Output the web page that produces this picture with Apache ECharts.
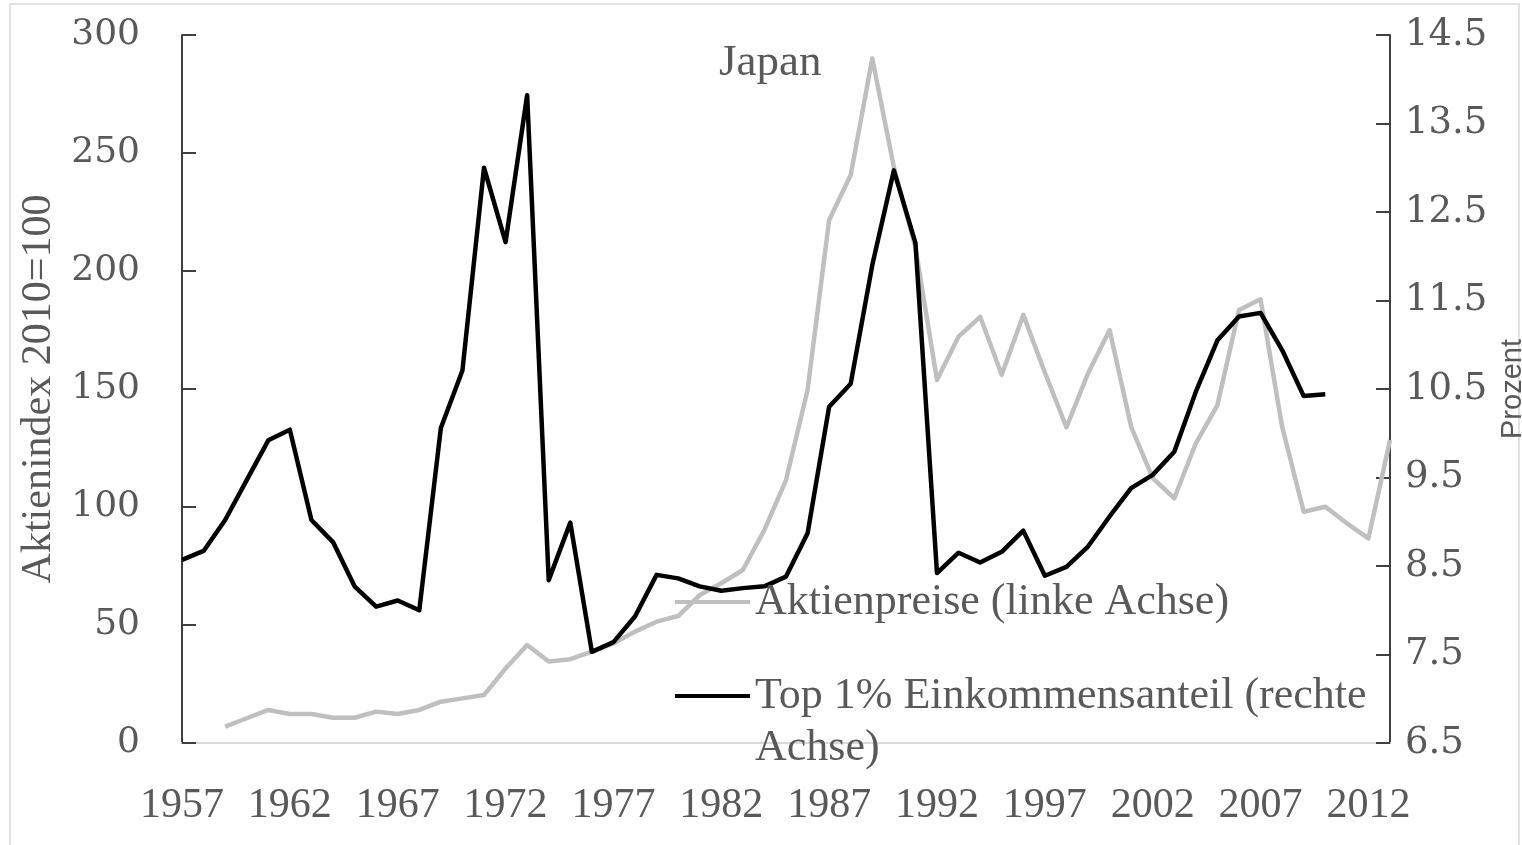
<!DOCTYPE html>
<html>
<head>
<meta charset="utf-8">
<script src="https://cdn.jsdelivr.net/npm/echarts@6/dist/echarts.min.js"></script>
<style>
html,body{margin:0;padding:0;background:#fff;}
#chart{width:1522px;height:845px;}
</style>
</head>
<body>
<div id="chart"></div>
<script>
const years = [];
for (let y = 1957; y <= 2013; y++) years.push(String(y));

// Aktienpreise (linke Achse), 2010=100
const stockPrices = [
  null, null, 6.9, 10.5, 14.0, 12.3, 12.3, 10.7, 10.7, 13.3,
  12.3, 14.0, 17.5, 18.9, 20.3, 31.6, 41.5, 34.5, 35.5, 38.7,
  42.2, 47.2, 51.4, 53.8, 62.7, 67.7, 73.3, 90.3, 111.4, 149.6,
  221.6, 240.7, 290.1, 244.0, 210.0, 153.8, 172.2, 180.6, 156.0, 181.4,
  157.0, 133.8, 156.6, 175.0, 134.0, 112.2, 103.7, 127.0, 143.2, 183.5,
  188.0, 134.0, 98.0, 100.1, 93.1, 86.7, 128.4
];

// Top 1% Einkommensanteil (rechte Achse), Prozent
const top1Share = [
  8.57, 8.67, 9.02, 9.47, 9.92, 10.04, 9.02, 8.77, 8.27, 8.04,
  8.11, 8.00, 10.06, 10.71, 13.00, 12.16, 13.82, 8.34, 8.99, 7.53,
  7.64, 7.93, 8.40, 8.36, 8.27, 8.22, 8.25, 8.27, 8.38, 8.87,
  10.30, 10.56, 11.90, 12.97, 12.15, 8.42, 8.65, 8.54, 8.66, 8.90,
  8.39, 8.49, 8.72, 9.06, 9.38, 9.53, 9.79, 10.47, 11.05, 11.32,
  11.36, 10.94, 10.42, 10.44, null, null, null
];

const seriesNames = ['Aktienpreise (linke Achse)', 'Top 1% Einkommensanteil (rechte Achse)'];
const titleText = 'Japan';
const leftAxisName = 'Aktienindex 2010=100';
const rightAxisName = 'Prozent';

const chart = echarts.init(document.getElementById('chart'), null, {renderer: 'canvas'});
const textGray = '#595959';
const serif = '"Liberation Serif", "Times New Roman", serif';
const serifWide = '"DejaVu Serif", serif';

const option = {
  backgroundColor: '#ffffff',
  animation: false,
  title: {
    text: titleText,
    left: 714,
    top: 36,
    textStyle: {fontFamily: serif, fontSize: 45, fontWeight: 'normal', color: textGray}
  },
  graphic: [{
    type: 'rect',
    shape: {x: 10, y: 4, width: 1509, height: 850},
    style: {fill: 'none', stroke: '#d9d9d9', lineWidth: 1.5},
    silent: true
  }],
  legend: [{
    data: [{name: seriesNames[0]}],
    left: 670,
    top: 572,
    icon: 'rect',
    itemWidth: 75,
    itemHeight: 4,
    itemGap: 0,
    selectedMode: false,
    textStyle: {fontFamily: serif, fontSize: 44, color: textGray, lineHeight: 50}
  }, {
    data: [{name: seriesNames[1]}],
    left: 670,
    top: 613,
    icon: 'rect',
    itemWidth: 75,
    itemHeight: 4,
    itemGap: 0,
    selectedMode: false,
    formatter: function (n) { return ' \n' + n.replace(' (rechte Achse)', ' (rechte\nAchse)'); },
    textStyle: {fontFamily: serif, fontSize: 44, color: textGray, lineHeight: 52}
  }],
  grid: {left: 182, right: 132, top: 35, bottom: 102, containLabel: false, outerBoundsMode: 'none'},
  xAxis: {
    type: 'category',
    data: years,
    boundaryGap: false,
    axisLine: {show: true, lineStyle: {color: '#d9d9d9', width: 2}},
    axisTick: {show: false},
    axisLabel: {
      interval: 4,
      margin: 42,
      fontFamily: serif,
      fontSize: 42,
      color: textGray
    },
    splitLine: {show: false}
  },
  yAxis: [{
    type: 'value',
    position: 'left',
    min: 0,
    max: 300,
    interval: 50,
    name: leftAxisName,
    nameLocation: 'middle',
    nameGap: 116,
    nameRotate: 90,
    nameTextStyle: {fontFamily: serif, fontSize: 42, color: textGray},
    axisLine: {show: true, lineStyle: {color: '#404040', width: 2}},
    axisTick: {show: true, inside: true, length: 14, lineStyle: {color: '#404040', width: 2}},
    axisLabel: {margin: 42, fontFamily: serifWide, fontSize: 36, color: textGray},
    splitLine: {show: false}
  }, {
    type: 'value',
    position: 'right',
    min: 6.5,
    max: 14.5,
    interval: 1,
    name: rightAxisName,
    nameLocation: 'middle',
    nameGap: 95,
    nameRotate: 90,
    nameTextStyle: {fontFamily: '"Liberation Sans", Arial, sans-serif', fontSize: 29, color: textGray},
    axisLine: {show: true, lineStyle: {color: '#404040', width: 2}},
    axisTick: {show: true, inside: true, length: 14, lineStyle: {color: '#404040', width: 2}},
    axisLabel: {margin: 15, fontFamily: serifWide, fontSize: 37, color: textGray,
      formatter: function (v) { return v.toFixed(1); }},
    splitLine: {show: false}
  }],
  series: [{
    name: seriesNames[0],
    type: 'line',
    yAxisIndex: 0,
    data: stockPrices,
    showSymbol: false,
    symbol: 'none',
    connectNulls: false,
    itemStyle: {color: '#bfbfbf'},
    lineStyle: {color: '#bfbfbf', width: 4.5, join: 'round'}
  }, {
    name: seriesNames[1],
    type: 'line',
    yAxisIndex: 1,
    data: top1Share,
    showSymbol: false,
    symbol: 'none',
    connectNulls: false,
    itemStyle: {color: '#000000'},
    lineStyle: {color: '#000000', width: 4.5, join: 'round'}
  }]
};
chart.setOption(option);
</script>
</body>
</html>
